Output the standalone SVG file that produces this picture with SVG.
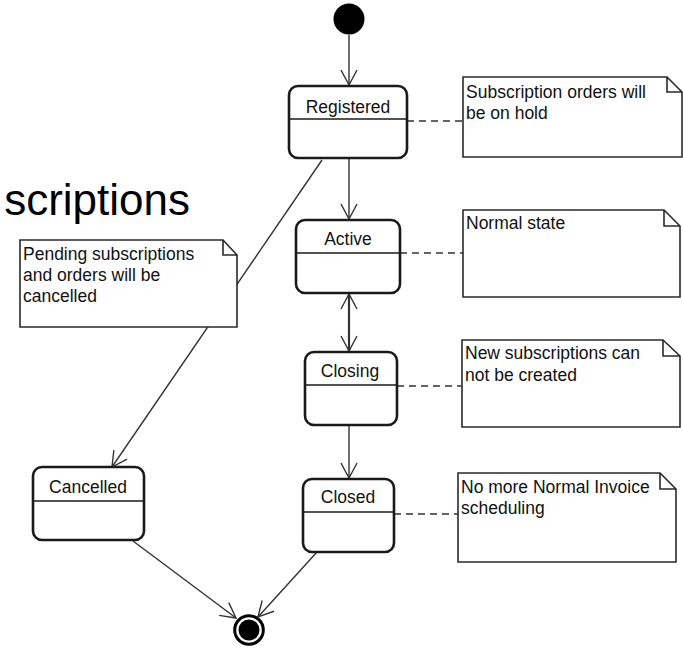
<svg xmlns="http://www.w3.org/2000/svg" width="683" height="648" viewBox="0 0 683 648">
<style>
.state{fill:#fff;stroke:#1a1a1a;stroke-width:2.6}
.div{stroke:#1a1a1a;stroke-width:1.5}
.st{font-family:"Liberation Sans",Arial,sans-serif;font-size:17.5px;fill:#111;text-anchor:middle}
.note{fill:#fff;stroke:#2a2a2a;stroke-width:1.6}
.nt{font-family:"Liberation Sans",Arial,sans-serif;font-size:17.5px;fill:#111}
.edge{fill:none;stroke:#333;stroke-width:1.4}
.dash{fill:none;stroke:#333;stroke-width:1.6;stroke-dasharray:7,5}
.title{font-family:"Liberation Sans",Arial,sans-serif;font-size:44px;fill:#000;text-anchor:end}
</style>
<defs>
<marker id="arr" viewBox="0 0 20 20" refX="17" refY="10" markerWidth="20" markerHeight="20" markerUnits="userSpaceOnUse" orient="auto-start-reverse">
<path d="M2,2 L17,10 L2,18" fill="none" stroke="#333" stroke-width="1.4"/>
</marker>
</defs>
<text class="title" x="190" y="215">scriptions</text>
<g id="connectors">
<line class="edge" x1="349" y1="35" x2="349" y2="85" marker-end="url(#arr)"/>
<line class="edge" x1="349" y1="158" x2="349" y2="219" marker-end="url(#arr)"/>
<line class="edge" x1="322" y1="160" x2="112" y2="467" marker-end="url(#arr)"/>
<line class="edge" x1="349" y1="294" x2="349" y2="351" marker-end="url(#arr)" marker-start="url(#arr)" style="stroke-width:2.2"/>
<line class="edge" x1="349" y1="425" x2="349" y2="478" marker-end="url(#arr)"/>
<line class="edge" x1="133" y1="541" x2="236" y2="618" marker-end="url(#arr)"/>
<line class="edge" x1="317" y1="552" x2="258" y2="617" marker-end="url(#arr)"/>
<line class="dash" x1="407" y1="121" x2="463" y2="121"/>
<line class="dash" x1="400" y1="253" x2="463" y2="253"/>
<line class="dash" x1="397" y1="386" x2="462" y2="386"/>
<line class="dash" x1="394" y1="514" x2="458" y2="514"/>
</g>
<g id="initial"><circle cx="349" cy="19" r="15.5" fill="#000"/></g>
<g id="registered">
<rect class="state" x="289" y="86" width="118" height="72" rx="9"/>
<line class="div" x1="289" y1="119" x2="407" y2="119"/>
<text class="st" x="348" y="113">Registered</text>
</g>
<g id="active">
<rect class="state" x="296" y="220" width="104" height="73" rx="9"/>
<line class="div" x1="296" y1="253" x2="400" y2="253"/>
<text class="st" x="348" y="245">Active</text>
</g>
<g id="closing">
<rect class="state" x="305" y="352" width="92" height="73" rx="9"/>
<line class="div" x1="305" y1="385" x2="397" y2="385"/>
<text class="st" x="350" y="377">Closing</text>
</g>
<g id="closed">
<rect class="state" x="303" y="479" width="91" height="73" rx="9"/>
<line class="div" x1="303" y1="512" x2="394" y2="512"/>
<text class="st" x="348" y="503">Closed</text>
</g>
<g id="cancelled">
<rect class="state" x="33" y="467" width="111" height="73" rx="9"/>
<line class="div" x1="33" y1="501" x2="144" y2="501"/>
<text class="st" x="88" y="493">Cancelled</text>
</g>
<g id="final">
<circle cx="249" cy="630" r="14.3" fill="#fff" stroke="#000" stroke-width="3"/>
<circle cx="249" cy="630" r="10.5" fill="#000"/>
</g>
<g id="note-registered">
<path class="note" d="M463,77 H667 L682,92 V157 H463 Z M667,77 V92 H682"/>
<text class="nt" x="466" y="98">Subscription orders will</text>
<text class="nt" x="466" y="119">be on hold</text>
</g>
<g id="note-active">
<path class="note" d="M463,210 H664 L680,226 V297 H463 Z M664,210 V226 H680"/>
<text class="nt" x="466" y="229">Normal state</text>
</g>
<g id="note-closing">
<path class="note" d="M462,340 H663 L680,356 V427 H462 Z M663,340 V356 H680"/>
<text class="nt" x="465" y="359">New subscriptions can</text>
<text class="nt" x="465" y="381">not be created</text>
</g>
<g id="note-closed">
<path class="note" d="M458,473 H660 L676,489 V562 H458 Z M660,473 V489 H676"/>
<text class="nt" x="461" y="493">No more Normal Invoice</text>
<text class="nt" x="461" y="514">scheduling</text>
</g>
<g id="note-cancelled">
<path class="note" d="M20,240 H223 L237,255 V327 H20 Z M223,240 V255 H237"/>
<text class="nt" x="23" y="260">Pending subscriptions</text>
<text class="nt" x="23" y="281">and orders will be</text>
<text class="nt" x="23" y="302">cancelled</text>
</g>
</svg>
